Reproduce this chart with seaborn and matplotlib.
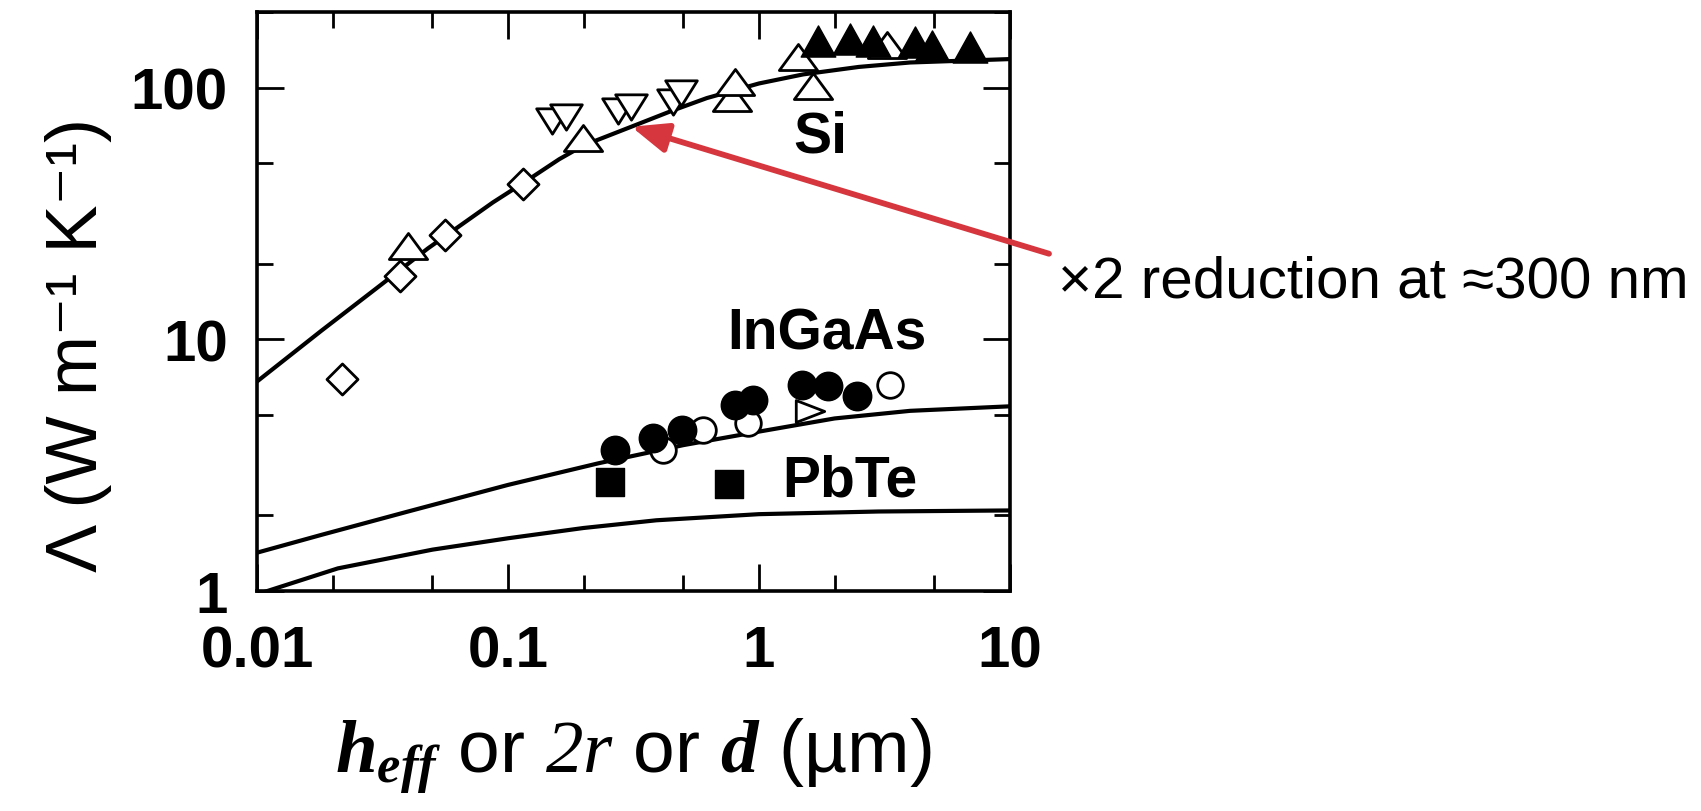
import matplotlib
matplotlib.use("Agg")
import matplotlib.pyplot as plt
from matplotlib.path import Path
from matplotlib.markers import MarkerStyle
from matplotlib.ticker import FixedLocator, FixedFormatter, NullFormatter, LogLocator
import seaborn as sns

# ---- model curves (thermal conductivity vs characteristic size) ----
si_curve_x = [0.01, 0.018, 0.031, 0.048, 0.087, 0.12, 0.16, 0.2, 0.31, 0.45, 0.62, 1.0, 1.5, 2.5, 4, 10]
si_curve_y = [6.8, 10.8, 16.4, 23, 35, 43, 52, 59, 70, 81, 91, 104, 113, 121, 126, 130]

ingaas_curve_x = [0.01, 0.018, 0.04, 0.1, 0.23, 0.5, 1.0, 2.0, 4, 10]
ingaas_curve_y = [1.42, 1.67, 2.07, 2.64, 3.22, 3.8, 4.3, 4.85, 5.2, 5.42]

pbte_curve_x = [0.01, 0.021, 0.05, 0.1, 0.2, 0.39, 1.0, 3, 10]
pbte_curve_y = [0.97, 1.23, 1.46, 1.62, 1.78, 1.91, 2.02, 2.07, 2.09]

# ---- measured data ----
si_diamond_x = [0.0218, 0.0371, 0.0561, 0.115]
si_diamond_y = [6.93, 17.8, 26.1, 41.6]

si_up_open_x = [0.040, 0.199, 0.78, 0.80, 1.64, 1.43, 3.24]
si_up_open_y = [23.4, 63.3, 91.3, 105.6, 101.8, 132.8, 148]

si_down_open_x = [0.150, 0.170, 0.274, 0.309, 0.454, 0.489]
si_down_open_y = [74, 76.7, 81, 84.1, 88, 95.5]

si_up_filled_x = [1.72, 2.31, 2.85, 4.19, 4.89, 6.93]
si_up_filled_y = [153.7, 156, 153.7, 152, 146.8, 145.6]

ingaas_open_circle_x = [0.414, 0.598, 0.904, 3.33]
ingaas_open_circle_y = [3.63, 4.35, 4.65, 6.56]

ingaas_open_right_x = [1.6]
ingaas_open_right_y = [5.18]

ingaas_filled_circle_x = [0.267, 0.378, 0.493, 0.80, 0.95, 1.48, 1.88, 2.46]
ingaas_filled_circle_y = [3.63, 4.05, 4.35, 5.47, 5.73, 6.56, 6.5, 5.94]

pbte_square_x = [0.255, 0.759]
pbte_square_y = [2.70, 2.66]

x_tick_values = [0.01, 0.1, 1, 10]
x_tick_labels = ["0.01", "0.1", "1", "10"]
y_tick_values = [1, 10, 100]
y_tick_labels = ["1", "10", "100"]

# ---- style ----
sns.set_theme(style="ticks")
plt.rcParams["font.family"] = ["Liberation Sans", "DejaVu Sans"]
plt.rcParams["mathtext.fontset"] = "custom"
plt.rcParams["mathtext.rm"] = "Liberation Sans"
plt.rcParams["mathtext.bf"] = "Liberation Sans:bold"
# bold-italic serif for the symbols h, eff, d; plain italic serif for "2r"
plt.rcParams["mathtext.it"] = "Liberation Serif:italic:bold"
plt.rcParams["mathtext.sf"] = "Liberation Serif:italic"


def poly_marker(verts):
    return MarkerStyle(Path(verts + [verts[0]], closed=True))


up_wide = poly_marker([(0, 0.68), (-1, -0.68), (1, -0.68)])
down_wide = poly_marker([(0, -0.8), (-1, 0.8), (1, 0.8)])
up_filled = poly_marker([(0, 0.9), (-1, -0.9), (1, -0.9)])
diamond = poly_marker([(0, 1), (1, 0), (0, -1), (-1, 0)])
right_tri = poly_marker([(1, 0), (-1, 0.77), (-1, -0.77)])

fig = plt.figure(figsize=(17.01, 8.12), dpi=100)
ax = fig.add_axes([257 / 1701, 1 - 592 / 812, 753 / 1701, 579 / 812])
ax.set_xscale("log")
ax.set_yscale("log")

line_kw = dict(color="black", linewidth=3.0, legend=False, ax=ax, errorbar=None)
sns.lineplot(x=si_curve_x, y=si_curve_y, **line_kw)
sns.lineplot(x=ingaas_curve_x, y=ingaas_curve_y, **line_kw)
sns.lineplot(x=pbte_curve_x, y=pbte_curve_y, **line_kw)

open_kw = dict(color="white", edgecolor="black", linewidth=2.0, ax=ax, zorder=3, legend=False)
fill_kw = dict(color="black", edgecolor="black", linewidth=1.0, ax=ax, zorder=4, legend=False)

sns.scatterplot(x=si_diamond_x, y=si_diamond_y, marker=diamond, s=500, **open_kw)
sns.scatterplot(x=si_up_open_x, y=si_up_open_y, marker=up_wide, s=760, **open_kw)
sns.scatterplot(x=si_down_open_x, y=si_down_open_y, marker=down_wide, s=520, **open_kw)
sns.scatterplot(x=si_up_filled_x, y=si_up_filled_y, marker=up_filled, s=620, **fill_kw)

sns.scatterplot(x=ingaas_open_circle_x, y=ingaas_open_circle_y, marker="o", s=340, **open_kw)
sns.scatterplot(x=ingaas_open_right_x, y=ingaas_open_right_y, marker=right_tri, s=420, **open_kw)
sns.scatterplot(x=ingaas_filled_circle_x, y=ingaas_filled_circle_y, marker="o", s=420, **fill_kw)
sns.scatterplot(x=pbte_square_x, y=pbte_square_y, marker="s", s=390, **fill_kw)

ax.set_xlim(0.01, 10)
ax.set_ylim(1, 200)

# ---- ticks and spines ----
ax.xaxis.set_major_locator(FixedLocator(x_tick_values))
ax.xaxis.set_major_formatter(FixedFormatter(x_tick_labels))
ax.yaxis.set_major_locator(FixedLocator(y_tick_values))
ax.yaxis.set_major_formatter(FixedFormatter(y_tick_labels))
ax.xaxis.set_minor_locator(LogLocator(base=10, subs=(2, 5)))
ax.yaxis.set_minor_locator(LogLocator(base=10, subs=(2, 5)))
ax.xaxis.set_minor_formatter(NullFormatter())
ax.yaxis.set_minor_formatter(NullFormatter())

ax.tick_params(which="both", direction="in", top=True, right=True, color="black", width=2.0)
ax.tick_params(which="major", length=19.5)
ax.tick_params(which="minor", length=11.5)
ax.tick_params(axis="x", which="major", pad=24, labelsize=42)
ax.tick_params(axis="y", which="major", pad=21, labelsize=42)
for lab in ax.get_xticklabels() + ax.get_yticklabels():
    lab.set_fontweight("bold")
    lab.set_color("black")
for sp in ax.spines.values():
    sp.set_linewidth(2.6)
    sp.set_color("black")

# ---- axis labels ----
ax.set_xlabel(r"$\mathit{h}_{\mathit{eff}}$ or $\mathsf{2r}$ or $\mathit{d}$ (µm)",
              fontsize=54, color="black")
ax.xaxis.label.set_va("baseline")
ax.xaxis.set_label_coords(0.5, (592 - 772) / 579)

ax.set_ylabel("Λ (W m⁻¹ K⁻¹)", fontsize=52, color="black")
ax.yaxis.label.set_va("baseline")
ax.yaxis.set_label_coords((97 - 257) / 753, (592 - 345) / 579)

# ---- material labels ----
lab_kw = dict(fontsize=41, fontweight="bold", ha="center", va="baseline", color="black")
ax.text(1.75, 55.7, "Si", **lab_kw)
ax.text(1.87, 9.2, "InGaAs", **lab_kw)
ax.text(2.31, 2.40, "PbTe", **lab_kw)

# ---- annotation arrow and note ----
ax.annotate("", xy=(0.31, 70), xytext=(14.3, 21.9), xycoords="data", textcoords="data",
            annotation_clip=False,
            arrowprops=dict(arrowstyle="-|>,head_length=1.1,head_width=0.45",
                            mutation_scale=20, linewidth=4.2, color="#d6363e",
                            shrinkA=0, shrinkB=0), zorder=6)
fig.text(1058 / 1701, 1 - 297 / 812, "×2 reduction at ≈300 nm", fontsize=42,
         ha="left", va="baseline", color="black")

fig.savefig("out.png", dpi=100, facecolor="white")
